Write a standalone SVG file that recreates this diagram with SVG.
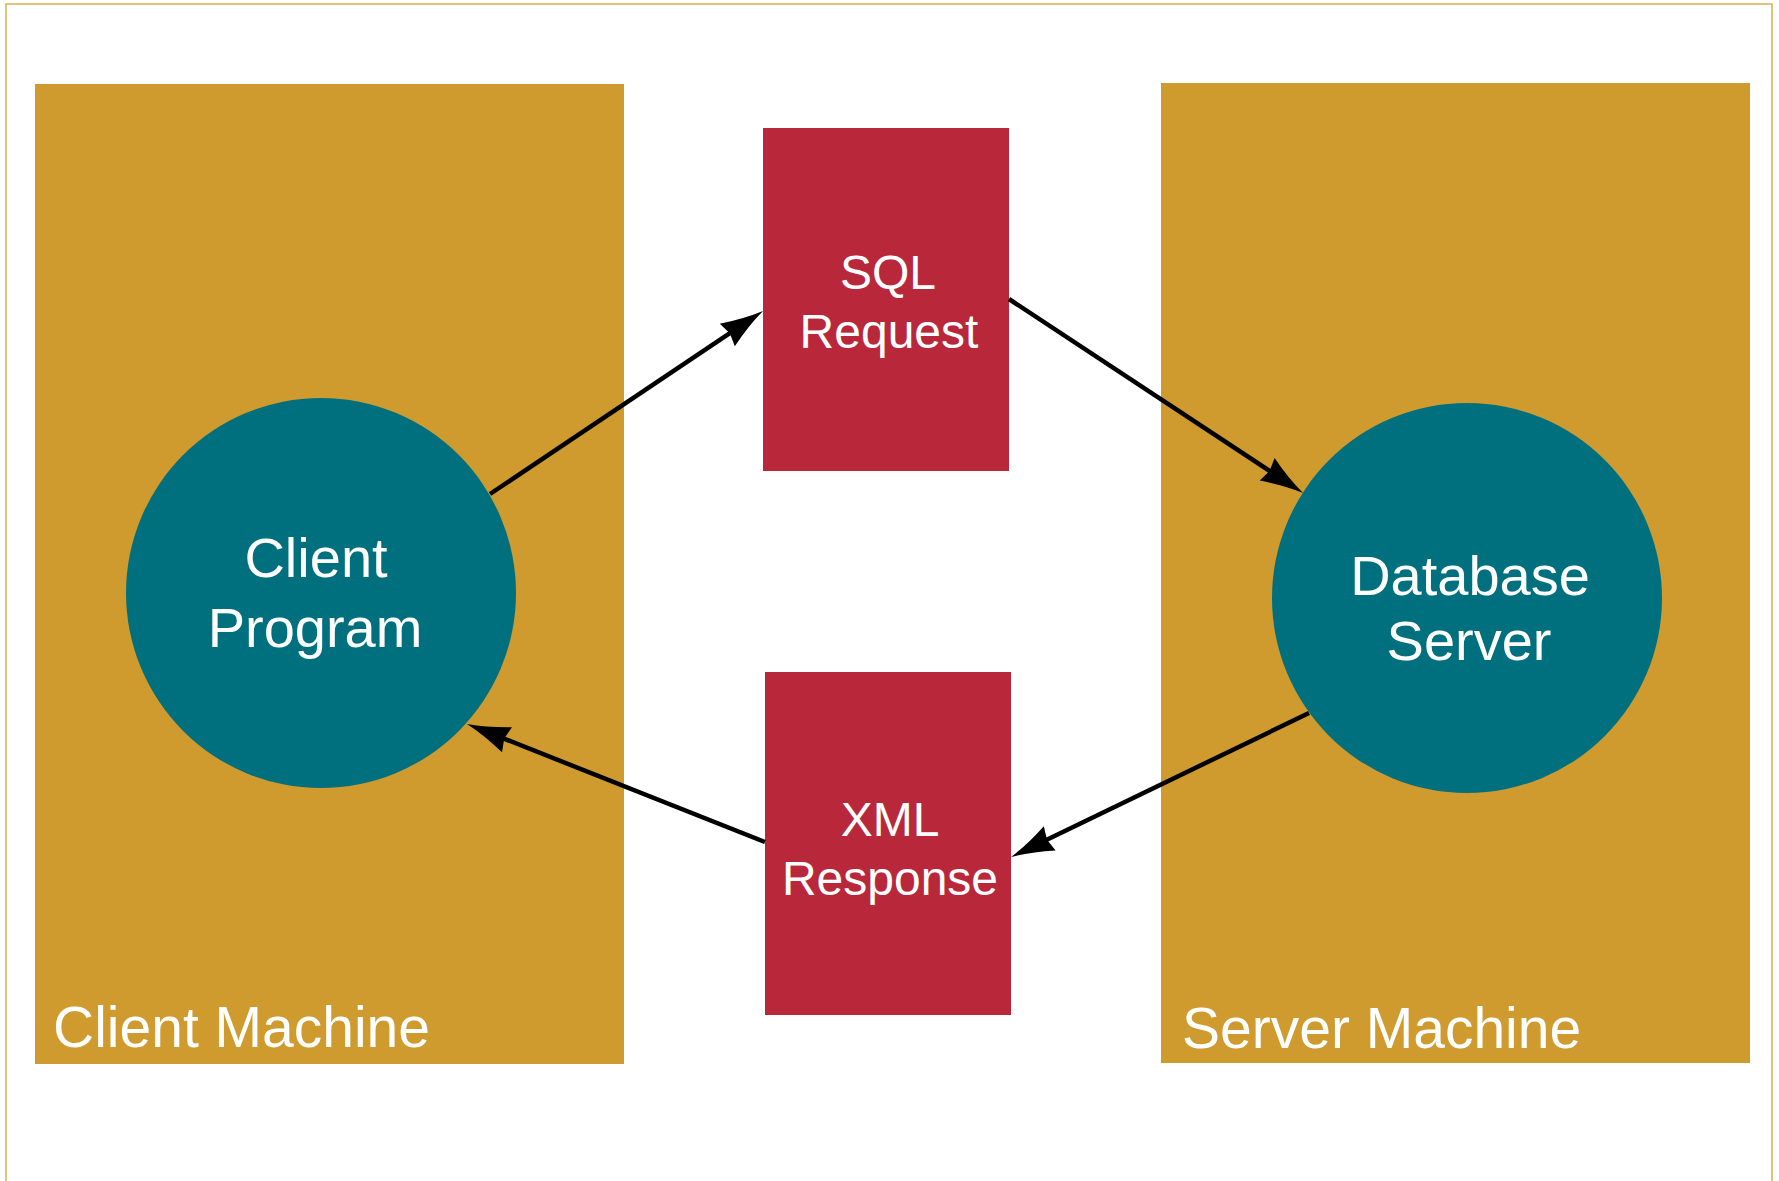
<svg xmlns="http://www.w3.org/2000/svg" width="1779" height="1181" viewBox="0 0 1779 1181">
  <style>
    .machine { fill: #CF9A2E; }
    .proc { fill: #00707E; }
    .msg { fill: #B8283A; }
    .lbl { fill: #FFFFFF; font-family: "Liberation Sans", Arial, sans-serif; }
    .big { font-size: 56px; text-anchor: middle; }
    .mid { font-size: 48px; text-anchor: middle; }
    .mach { font-size: 57px; }
    .conn { stroke: #000000; stroke-width: 4.5; fill: none; marker-end: url(#arrow); }
  </style>
  <defs>
    <marker id="arrow" markerUnits="userSpaceOnUse" viewBox="-15 -15 47 30" markerWidth="47" markerHeight="30" refX="0" refY="0" orient="auto">
      <path d="M30,0 Q10,-4 -13,-13.5 L-10,0 L-13,13.5 Q10,4 30,0 Z" fill="#000000"/>
    </marker>
  </defs>
  <rect x="0" y="0" width="1779" height="1181" fill="#FFFFFF"/>
  <rect x="6" y="4" width="1766" height="1195" fill="none" stroke="#D9AE52" stroke-width="1.5"/>

  <g id="client-machine">
    <rect class="machine" x="35" y="84" width="589" height="980"/>
    <text class="lbl mach" x="53" y="1047">Client Machine</text>
  </g>
  <g id="server-machine">
    <rect class="machine" x="1161" y="83" width="589" height="980"/>
    <text class="lbl mach" x="1182" y="1048">Server Machine</text>
  </g>

  <g id="client-program">
    <circle class="proc" cx="321" cy="593" r="195"/>
    <text class="lbl big" x="316" y="577">Client</text>
    <text class="lbl big" x="315" y="647">Program</text>
  </g>
  <g id="database-server">
    <circle class="proc" cx="1467" cy="598" r="195"/>
    <text class="lbl big" x="1470" y="595">Database</text>
    <text class="lbl big" x="1469" y="660">Server</text>
  </g>

  <g id="sql-request">
    <rect class="msg" x="763" y="128" width="246" height="343"/>
    <text class="lbl mid" x="888" y="289">SQL</text>
    <text class="lbl mid" x="889" y="348">Request</text>
  </g>
  <g id="xml-response">
    <rect class="msg" x="765" y="672" width="246" height="343"/>
    <text class="lbl mid" x="890" y="836">XML</text>
    <text class="lbl mid" x="890" y="895">Response</text>
  </g>

  <g id="connectors">
    <line class="conn" x1="490" y1="494" x2="738.1" y2="327.7"/>
    <line class="conn" x1="1009" y1="299" x2="1278" y2="476.5"/>
    <line class="conn" x1="1309" y1="713" x2="1038" y2="844"/>
    <line class="conn" x1="765" y1="842" x2="494.9" y2="735"/>
  </g>
</svg>
